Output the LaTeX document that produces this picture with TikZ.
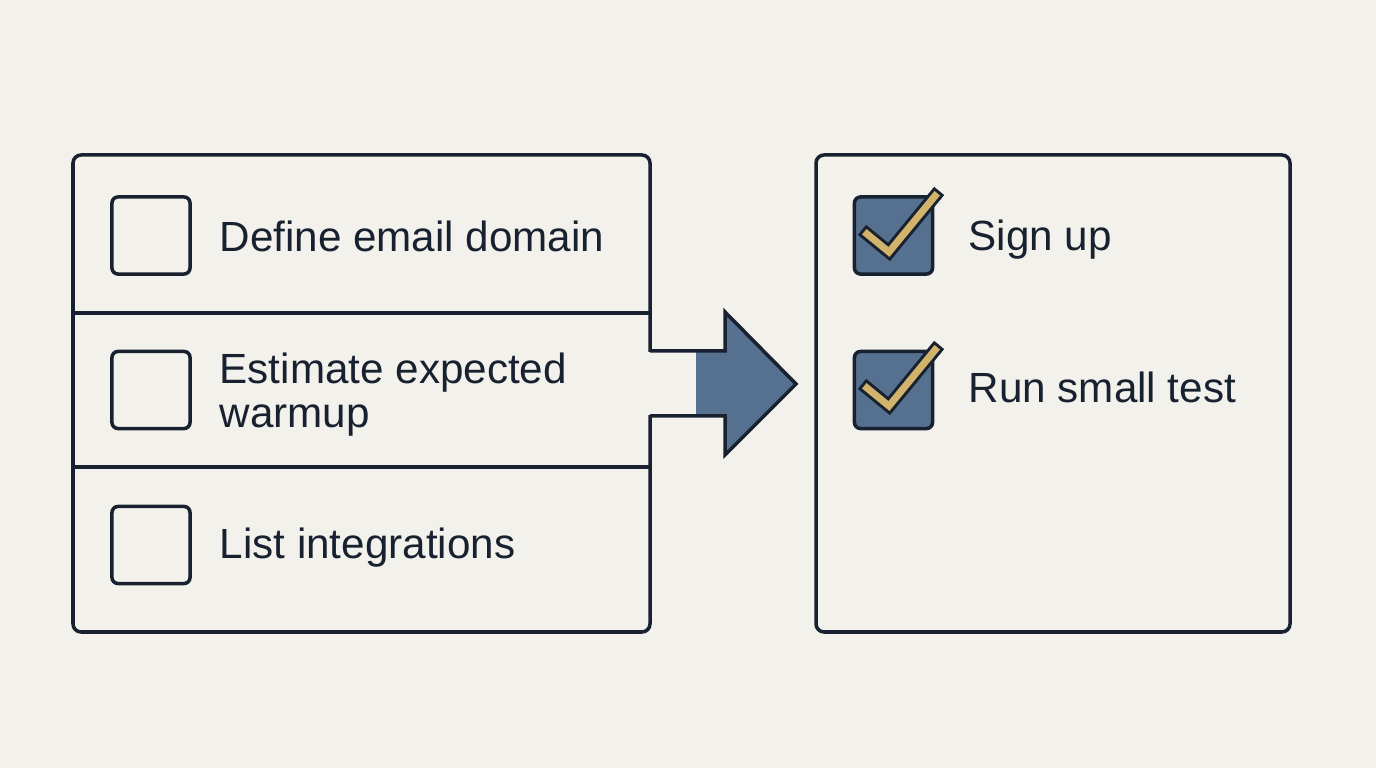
\documentclass[tikz,border=0pt]{standalone}
\usepackage{fontspec}
\setmainfont{Liberation Sans}
\usepackage{xcolor}
\definecolor{paper}{HTML}{F3F1EB}
\definecolor{ink}{HTML}{17212F}
\definecolor{slate}{HTML}{56708F}
\definecolor{gold}{HTML}{D2B36C}
\tikzset{
  panel/.style={draw=ink, line width=1pt, rounded corners=2.3pt},
  tickbox/.style={draw=ink, line width=1pt, rounded corners=1.7pt, minimum width=0.78cm, minimum height=0.77cm, inner sep=0pt},
  donebox/.style={tickbox, fill=slate},
  item/.style={anchor=base west, inner sep=0pt, text=ink, font=\fontsize{12}{14}\selectfont},
}
\begin{document}
\begin{tikzpicture}[x=0.01cm, y=-0.01cm]
	% Background:
	\fill[paper] (0,0) rectangle (1376,768);
	\useasboundingbox (0,0) rectangle (1376,768);
	% Left list:
	\draw[panel] (73,155) rectangle (650,632);
	\draw[ink, line width=1pt] (73,313) -- (650,313);
	\draw[ink, line width=1pt] (73,467) -- (650,467);
	\node[tickbox] (B1) at (151,235.5){};
	\node[tickbox] (B2) at (151,390){};
	\node[tickbox] (B3) at (151,545){};
	\node[item] (T1) at (219,252){Define email domain};
	\node[item] (T2) at (219,384){Estimate expected};
	\node[item] (T2b) at (219,428){warmup};
	\node[item] (T3) at (219,559){List integrations};
	% Arrow:
	\fill[paper] (645,352) rectangle (655,415);
	\fill[slate] (696,351) -- (725,351) -- (725,312) -- (796,384) -- (725,455) -- (725,416) -- (696,416) -- cycle;
	\draw[ink, line width=1pt, line join=miter] (650,351) -- (725,351) -- (725,312) -- (796,384) -- (725,455) -- (725,416) -- (650,416);
	% Right list:
	\draw[panel] (816,155) rectangle (1290,632);
	\node[donebox] (D1) at (893.5,235.5){};
	\node[donebox] (D2) at (893.5,390){};
	\foreach \dy in {0,154}{
		\draw[ink, line width=3.7pt, line cap=rect, line join=miter] (867,234+\dy) -- (889,252+\dy) -- (935,196+\dy);
		\draw[gold, line width=2pt, line cap=rect, line join=miter] (867,234+\dy) -- (889,252+\dy) -- (935,196+\dy);
	}
	\node[item] (S1) at (968,251){Sign up};
	\node[item] (S2) at (968,403){Run small test};
\end{tikzpicture}
\end{document}
